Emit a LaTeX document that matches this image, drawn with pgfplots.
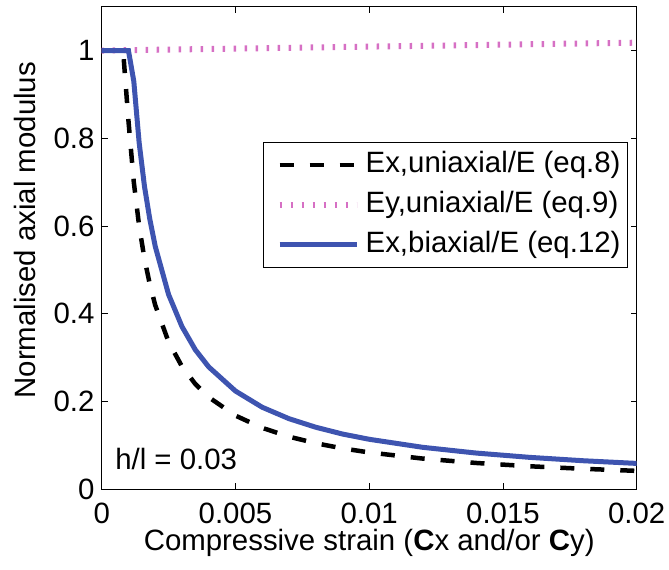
\documentclass[border=0pt]{standalone}
\usepackage{fontspec}
\setmainfont{Liberation Sans}
\usepackage{pgfplots}
\pgfplotsset{compat=1.18}

\definecolor{exbi}{RGB}{62,84,176}
\definecolor{eyuni}{RGB}{214,112,196}

\begin{document}
\begin{tikzpicture}
\path[use as bounding box] (0bp,0bp) rectangle (669bp,570bp);
\begin{axis}[
  at={(101.7bp,80.7bp)}, anchor=south west,
  scale only axis, width=535bp, height=482.6bp,
  xmin=0, xmax=0.02, ymin=0, ymax=1.1,
  xtick={0,0.005,0.01,0.015,0.02},
  xticklabels={0,0.005,0.01,0.015,0.02},
  scaled x ticks=false,
  ytick={0,0.2,0.4,0.6,0.8,1},
  yticklabels={0,0.2,0.4,0.6,0.8,1},
  tick align=inside, major tick length=6bp,
  tick style={black, line width=0.8bp},
  axis line style={black, line width=1bp},
  font=\fontsize{29.5}{35}\selectfont,
  /pgf/number format/assume math mode=true,
  xticklabel style={anchor=north, inner sep=0bp, yshift=-13.5bp},
  yticklabel style={anchor=east, inner sep=0bp, xshift=-7bp},
  xlabel={Compressive strain (\textbf{C}x and/or \textbf{C}y)},
  ylabel={Normalised axial modulus},
  every axis x label/.style={at={(axis description cs:0.5,-0.126)}, anchor=base},
  every axis y label/.style={at={(axis description cs:-0.143,0.537)}, anchor=center, rotate=90},
  legend image code/.code={\path (0bp,0bp); \draw[#1] (6bp,0bp) -- (83bp,0bp);},
  legend style={at={(axis description cs:0.9837,0.7197)}, anchor=north east,
    draw=black, line width=0.9bp, fill=white,
    inner xsep=7bp, inner ysep=9bp, row sep=13bp, column sep=6bp,
    nodes={inner sep=0bp, text height=21bp, text depth=6bp},
    cells={anchor=west}},
]
% E_x under uniaxial compression, eq. 8
\addplot[black, line width=4.5bp, dash pattern=on 14bp off 16bp] coordinates {
  (0,1) (0.0008,1) (0.001,0.84) (0.0012,0.70) (0.0014,0.60) (0.0016,0.525)
  (0.0018,0.467) (0.002,0.42) (0.0025,0.336) (0.003,0.28) (0.0035,0.24)
  (0.004,0.21) (0.005,0.168) (0.006,0.14) (0.007,0.12) (0.008,0.105)
  (0.009,0.0933) (0.01,0.084) (0.012,0.07) (0.014,0.06) (0.016,0.0525)
  (0.018,0.0467) (0.02,0.042)
};
\addlegendentry{Ex,uniaxial/E (eq.8)}
% E_y under uniaxial compression, eq. 9
\addplot[eyuni, line width=6bp, dash pattern=on 2.5bp off 8.5bp] coordinates {
  (0,1.0) (0.01,1.009) (0.02,1.018)
};
\addlegendentry{Ey,uniaxial/E (eq.9)}
% E_x under biaxial compression, eq. 12
\addplot[exbi, line width=5bp] coordinates {
  (0,1) (0.001,1) (0.0012,0.93) (0.0014,0.79) (0.0016,0.69) (0.0018,0.615)
  (0.002,0.554) (0.0025,0.444) (0.003,0.371) (0.0035,0.318) (0.004,0.279)
  (0.005,0.224) (0.006,0.187) (0.007,0.161) (0.008,0.1415) (0.009,0.126)
  (0.01,0.114) (0.012,0.0957) (0.014,0.0826) (0.016,0.0728) (0.018,0.0651)
  (0.02,0.059)
};
\addlegendentry{Ex,biaxial/E (eq.12)}
\node[anchor=base west, inner sep=0bp] at (axis cs:0.0005,0.044) {h/l = 0.03};
\end{axis}
\end{tikzpicture}
\end{document}
